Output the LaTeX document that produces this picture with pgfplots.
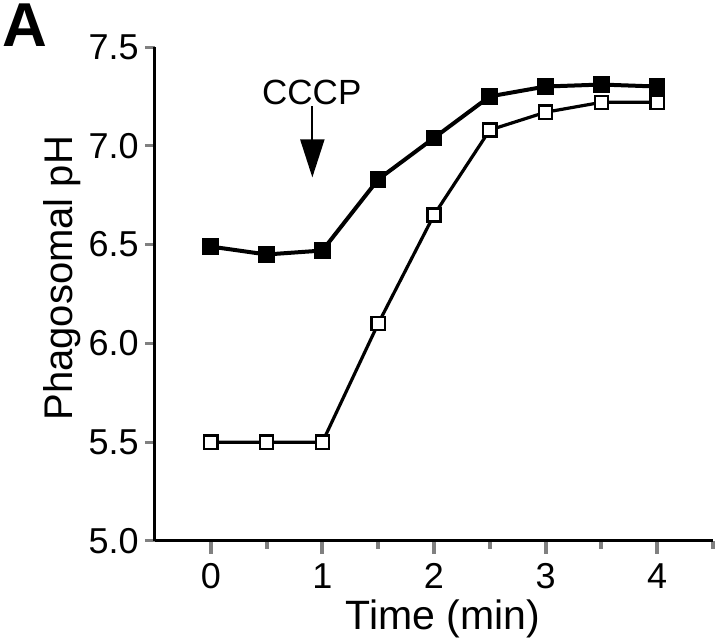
\documentclass[border=0pt]{standalone}
\usepackage{pgfplots}
\pgfplotsset{compat=1.18}
\usepackage{fontspec}
\setmainfont{Liberation Sans}
\usetikzlibrary{arrows.meta}

\begin{document}
\begin{tikzpicture}
\path[use as bounding box] (-77.5pt,-51.5pt) rectangle (282.5pt,270.5pt);
\begin{axis}[
    at={(0,0)}, anchor=south west,
    scale only axis,
    width=279pt, height=247pt,
    xmin=-0.5, xmax=4.5,
    ymin=5, ymax=7.5,
    axis x line=bottom, axis y line=left,
    axis line style={-, line width=1.5pt},
    xtick={0,1,2,3,4},
    minor xtick={0.5,1.5,2.5,3.5,4.5},
    ytick={5,5.5,6,6.5,7,7.5},
    tick align=outside,
    major tick length=6.5pt,
    minor tick length=4pt,
    x tick style={line width=2pt},
    y tick style={line width=1.5pt, /pgfplots/major tick length=5pt},
    /pgf/number format/assume math mode=true,
    yticklabel style={/pgf/number format/fixed, /pgf/number format/fixed zerofill,
        /pgf/number format/precision=1, inner sep=0pt, xshift=-1.5pt},
    xticklabel style={inner sep=0pt, yshift=-4.5pt},
    tick label style={font=\fontsize{18}{20}\selectfont},
    xlabel={Time (min)},
    ylabel={Phagosomal pH},
    xlabel style={at={(axis description cs:0.516,0)}, anchor=base, yshift=-44.5pt,
        font=\fontsize{20.5}{23}\selectfont},
    ylabel style={at={(axis description cs:-0.148,0.532)}, anchor=base,
        font=\fontsize{20}{23}\selectfont},
    clip=false,
]
% filled squares
\addplot[black, line width=2pt, mark=square*, mark size=3.9pt,
    mark options={solid, fill=black, line width=0.5pt}] coordinates {
    (0,6.49) (0.5,6.45) (1,6.47) (1.5,6.83) (2,7.04)
    (2.5,7.25) (3,7.30) (3.5,7.31) (4,7.30)
};
% open squares
\addplot[black, line width=1.6pt, mark=square*, mark size=3.3pt,
    mark options={solid, fill=white, line width=1.2pt}] coordinates {
    (0,5.5) (0.5,5.5) (1,5.5) (1.5,6.10) (2,6.65)
    (2.5,7.08) (3,7.17) (3.5,7.22) (4,7.22)
};
\node[font=\fontsize{17.5}{20}\selectfont] at (axis cs:0.905,7.27) {CCCP};
\draw[-{Triangle[width=12pt,length=19pt]}, line width=1pt]
    (axis cs:0.91,7.2) -- (axis cs:0.91,6.84);
\node[font=\fontsize{31}{34}\bfseries] at (axis description cs:-0.233,1.0445) {A};
\end{axis}
\end{tikzpicture}
\end{document}
